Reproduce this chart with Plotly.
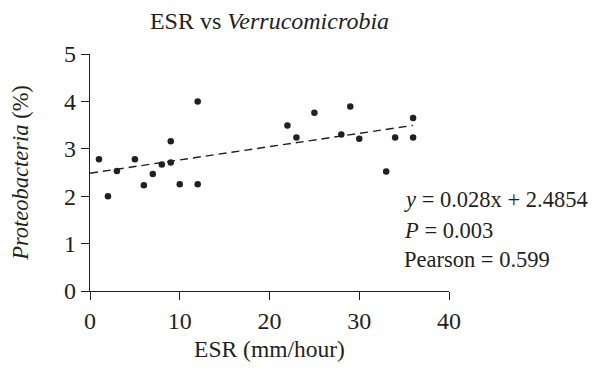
import plotly.graph_objects as go

esr = [1, 2, 3, 5, 6, 7, 8, 9, 9, 10, 12, 12, 22, 23, 25, 28, 29, 30, 33, 34, 36, 36]
proteo = [2.78, 2.0, 2.53, 2.78, 2.23, 2.47, 2.67, 3.16, 2.71, 2.25, 4.0, 2.25,
          3.49, 3.24, 3.76, 3.3, 3.89, 3.21, 2.52, 3.24, 3.65, 3.24]
slope = 0.028
intercept = 2.4854
fit_x = [0, 36]
fit_y = [intercept + slope * v for v in fit_x]
x_ticks = [0, 10, 20, 30, 40]
y_ticks = [0, 1, 2, 3, 4, 5]

font = "Liberation Serif, Times New Roman, serif"
ink = "#231f20"

fig = go.Figure()
fig.add_trace(go.Scatter(x=esr, y=proteo, mode="markers",
                         marker=dict(color=ink, size=6.5), showlegend=False))
fig.add_trace(go.Scatter(x=fit_x, y=fit_y, mode="lines",
                         line=dict(color=ink, width=1.4, dash="8px,5px"), showlegend=False))

axis_common = dict(showgrid=False, zeroline=False, showline=True, linecolor=ink, linewidth=1.2,
                   ticks="outside", ticklen=8, tickwidth=1.2, tickcolor=ink, automargin=False,
                   tickfont=dict(family=font, size=24, color=ink))

fig.update_layout(
    width=600, height=376,
    margin=dict(l=81.5, r=158.5, t=46, b=93, autoexpand=False),
    paper_bgcolor="white", plot_bgcolor="white",
    font=dict(family=font, size=21, color=ink),
    title=dict(text="ESR vs <i>Verrucomicrobia</i>", xref="paper", x=0.5, xanchor="center",
               yref="container", y=1 - 12.5 / 376, yanchor="middle", automargin=False,
               font=dict(family=font, size=24, color=ink)),
    xaxis=dict(range=[0, 40], tickvals=x_ticks, **axis_common,
               title=dict(text="ESR (mm/hour)", standoff=7, font=dict(family=font, size=23.5, color=ink))),
    yaxis=dict(range=[0, 5], tickvals=y_ticks, **axis_common,
               title=dict(text="<i>Proteobacteria</i> (%)", standoff=30,
                          font=dict(family=font, size=22.5, color=ink))),
)

ann = ["<i>y</i> = 0.028x + 2.4854", "<i>P</i> = 0.003", "Pearson = 0.599"]
ann_y = [0.384, 0.257, 0.131]
for t, yy in zip(ann, ann_y):
    fig.add_annotation(text=t, xref="paper", yref="paper", x=0.868, y=yy,
                       xanchor="left", yanchor="middle", showarrow=False,
                       font=dict(family=font, size=22.5, color=ink))

fig.write_html("out.html")
